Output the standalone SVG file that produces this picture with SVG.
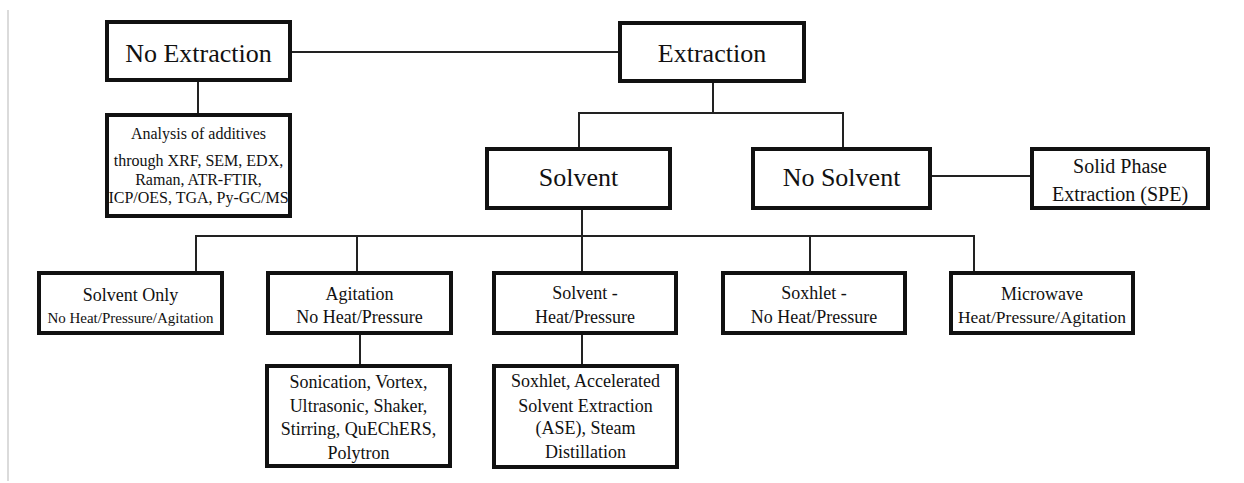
<svg xmlns="http://www.w3.org/2000/svg" width="1244" height="483" viewBox="0 0 1244 483">
<style>
.box{fill:#fff;stroke:#111;stroke-width:4}
.c{fill:none;stroke:#222;stroke-width:2}
text{fill:#111;text-anchor:middle}
.big{font-size:26px}
.m{font-size:18px}
.s{font-size:16px}
</style>
<rect width="1244" height="483" fill="#fff"/>
<line x1="8" y1="10" x2="8" y2="481" stroke="#cfcfcf" stroke-width="1.5"/>
<g id="connectors">
<path class="c" d="M290 52H620"/>
<path class="c" d="M198 80V115"/>
<path class="c" d="M713 81V113M579 149V113H843V149"/>
<path class="c" d="M930 176H1032"/>
<path class="c" d="M582 208V236M196 273V236H974V273M357 236V273M582 236V273M810 236V273"/>
<path class="c" d="M360 333V366"/>
<path class="c" d="M582 333V366"/>
</g>
<g font-family="Liberation Serif, DejaVu Serif, serif">
<g id="no-extraction"><rect class="box" x="107" y="22" width="183" height="58"/><text class="big" x="198.5" y="62">No Extraction</text></g>
<g id="extraction"><rect class="box" x="620" y="23" width="184" height="58"/><text class="big" x="712" y="62">Extraction</text></g>
<g id="analysis"><rect class="box" x="107" y="115" width="183" height="101"/>
<text class="s" x="198.5" y="139">Analysis of additives</text>
<text class="s" x="198.5" y="166">through XRF, SEM, EDX,</text>
<text class="s" x="198.5" y="185">Raman, ATR-FTIR,</text>
<text class="s" x="198.5" y="203">ICP/OES, TGA, Py-GC/MS</text></g>
<g id="solvent"><rect class="box" x="487" y="149" width="183" height="59"/><text class="big" x="578.5" y="186">Solvent</text></g>
<g id="no-solvent"><rect class="box" x="753" y="149" width="177" height="59"/><text class="big" x="841.5" y="186">No Solvent</text></g>
<g id="spe"><rect class="box" x="1032" y="149" width="176" height="59"/>
<text x="1120" y="173" font-size="20">Solid Phase</text>
<text x="1120" y="201" font-size="20">Extraction (SPE)</text></g>
<g id="solvent-only"><rect class="box" x="39" y="273" width="183" height="60"/>
<text class="m" x="130.5" y="301">Solvent Only</text>
<text x="130.5" y="323" font-size="15px">No Heat/Pressure/Agitation</text></g>
<g id="agitation"><rect class="box" x="268" y="273" width="183" height="60"/>
<text class="m" x="359.5" y="300">Agitation</text>
<text class="m" x="359.5" y="323">No Heat/Pressure</text></g>
<g id="solvent-heat"><rect class="box" x="494" y="273" width="182" height="60"/>
<text class="m" x="585" y="299">Solvent -</text>
<text class="m" x="585" y="323">Heat/Pressure</text></g>
<g id="soxhlet"><rect class="box" x="723" y="273" width="182" height="60"/>
<text class="m" x="814" y="299">Soxhlet -</text>
<text class="m" x="814" y="323">No Heat/Pressure</text></g>
<g id="microwave"><rect class="box" x="951" y="273" width="182" height="60"/>
<text class="m" x="1042" y="300">Microwave</text>
<text x="1042" y="323" font-size="17.5px">Heat/Pressure/Agitation</text></g>
<g id="sonication"><rect class="box" x="267" y="366" width="183" height="100"/>
<text class="m" x="358.5" y="388">Sonication, Vortex,</text>
<text class="m" x="358.5" y="412">Ultrasonic, Shaker,</text>
<text class="m" x="358.5" y="435">Stirring, QuEChERS,</text>
<text class="m" x="358.5" y="459">Polytron</text></g>
<g id="soxhlet-ase"><rect class="box" x="494" y="366" width="183" height="101"/>
<text class="m" x="585.5" y="387">Soxhlet, Accelerated</text>
<text class="m" x="585.5" y="412">Solvent Extraction</text>
<text class="m" x="585.5" y="434">(ASE), Steam</text>
<text class="m" x="585.5" y="458">Distillation</text></g>
</g>
</svg>
